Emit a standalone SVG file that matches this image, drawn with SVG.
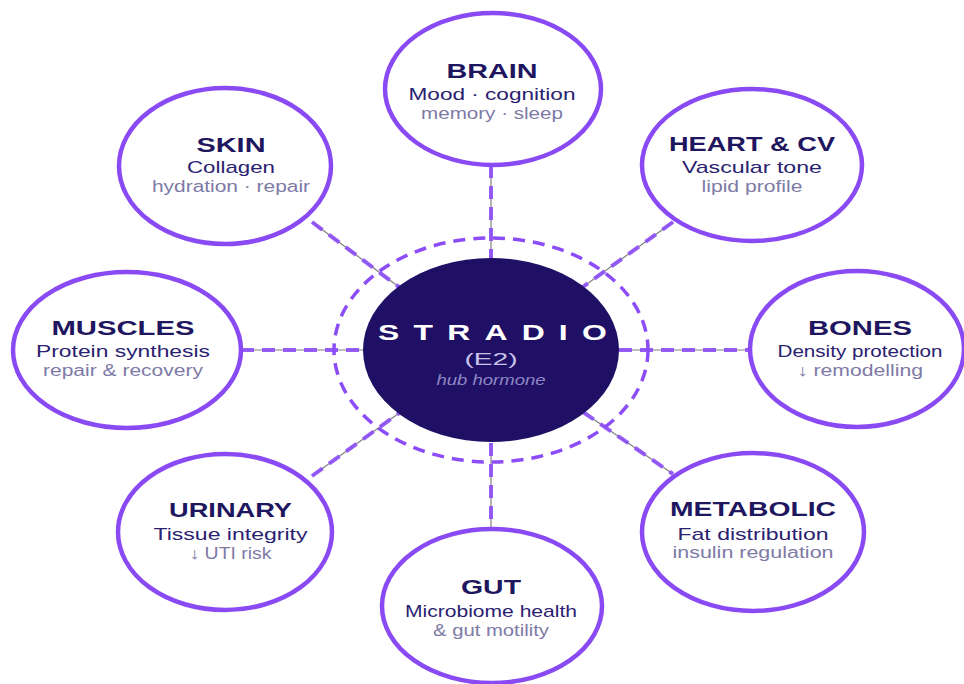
<svg xmlns="http://www.w3.org/2000/svg" width="964" height="684" viewBox="0 0 964 684">
<style>
.node{fill:#ffffff;stroke:#8a4af3;stroke-width:4.5}
.t1{font-family:"Liberation Sans",Arial,sans-serif;font-weight:bold;font-size:21px;fill:#1f1660;text-anchor:middle}
.t2{font-family:"Liberation Sans",Arial,sans-serif;font-size:17px;fill:#2a2270;text-anchor:middle}
.t3{font-family:"Liberation Sans",Arial,sans-serif;font-size:16px;fill:#7e7aa6;text-anchor:middle}
.base{stroke:#808080;stroke-width:1.2;fill:none}
.dash{stroke:#8c4cf7;stroke-width:4;stroke-dasharray:13 8;fill:none;opacity:0.9}
</style>
<rect width="964" height="684" fill="#ffffff"/>
<g id="connectors">
<line class="base" x1="491" y1="165" x2="491" y2="258"/>
<line class="dash" x1="491" y1="165" x2="491" y2="258"/>
<line class="base" x1="491" y1="443" x2="491" y2="529"/>
<line class="dash" x1="491" y1="443" x2="491" y2="529"/>
<line class="base" x1="241" y1="350" x2="363" y2="350"/>
<line class="dash" x1="241" y1="350" x2="363" y2="350"/>
<line class="base" x1="619" y1="350" x2="750" y2="350"/>
<line class="dash" x1="619" y1="350" x2="750" y2="350"/>
<line class="base" x1="312" y1="222" x2="403" y2="290"/>
<line class="dash" x1="312" y1="222" x2="403" y2="290"/>
<line class="base" x1="673" y1="222" x2="580" y2="289"/>
<line class="dash" x1="673" y1="222" x2="580" y2="289"/>
<line class="base" x1="312" y1="476" x2="402" y2="411"/>
<line class="dash" x1="312" y1="476" x2="402" y2="411"/>
<line class="base" x1="583" y1="412" x2="673" y2="474"/>
<line class="dash" x1="583" y1="412" x2="673" y2="474"/>
</g>
<g id="ring">
<ellipse cx="491" cy="350" rx="157" ry="112" fill="none" stroke="#8c4cf7" stroke-width="3.5" stroke-dasharray="12 8"/>
</g>
<g id="center">
<ellipse cx="491" cy="350" rx="128" ry="92" fill="#1f1066"/>
<g transform="translate(491 0) scale(1.45 1) translate(-491 0)">
<text x="388.6" y="340" font-family="Liberation Sans,Arial,sans-serif" font-weight="bold" font-size="22" fill="#ffffff" letter-spacing="9.8">ESTRADIOL</text>
</g>
<text x="491" y="365" font-family="Liberation Sans,Arial,sans-serif" font-size="17" fill="#c9c2ea" text-anchor="middle" textLength="53" lengthAdjust="spacingAndGlyphs">(E2)</text>
<text x="491" y="385" font-family="Liberation Sans,Arial,sans-serif" font-style="italic" font-size="15" fill="#9088c4" text-anchor="middle" textLength="109" lengthAdjust="spacingAndGlyphs">hub hormone</text>
</g>
<g id="brain">
<ellipse class="node" cx="493" cy="89" rx="108" ry="76"/>
<text class="t1" x="492" y="77.5" textLength="91" lengthAdjust="spacingAndGlyphs">BRAIN</text>
<text class="t2" x="492" y="100" textLength="167" lengthAdjust="spacingAndGlyphs">Mood · cognition</text>
<text class="t3" x="492" y="119" textLength="142" lengthAdjust="spacingAndGlyphs">memory · sleep</text>
</g>
<g id="skin">
<ellipse class="node" cx="225" cy="166" rx="106" ry="78"/>
<text class="t1" x="231" y="152" textLength="69" lengthAdjust="spacingAndGlyphs">SKIN</text>
<text class="t2" x="231" y="173" textLength="88" lengthAdjust="spacingAndGlyphs">Collagen</text>
<text class="t3" x="231" y="192" textLength="158" lengthAdjust="spacingAndGlyphs">hydration · repair</text>
</g>
<g id="heart">
<ellipse class="node" cx="752" cy="165" rx="110" ry="76"/>
<text class="t1" x="752" y="151" textLength="166" lengthAdjust="spacingAndGlyphs">HEART &amp; CV</text>
<text class="t2" x="752" y="173" textLength="140" lengthAdjust="spacingAndGlyphs">Vascular tone</text>
<text class="t3" x="752" y="192" textLength="101" lengthAdjust="spacingAndGlyphs">lipid profile</text>
</g>
<g id="muscles">
<ellipse class="node" cx="127" cy="350" rx="114" ry="78"/>
<text class="t1" x="123" y="335" textLength="143" lengthAdjust="spacingAndGlyphs">MUSCLES</text>
<text class="t2" x="123" y="357" textLength="174" lengthAdjust="spacingAndGlyphs">Protein synthesis</text>
<text class="t3" x="123" y="376" textLength="160" lengthAdjust="spacingAndGlyphs">repair &amp; recovery</text>
</g>
<g id="bones">
<ellipse class="node" cx="857" cy="349" rx="107" ry="78"/>
<text class="t1" x="860" y="335" textLength="104" lengthAdjust="spacingAndGlyphs">BONES</text>
<text class="t2" x="860" y="357" textLength="165" lengthAdjust="spacingAndGlyphs">Density protection</text>
<text class="t3" x="860" y="376" textLength="126" lengthAdjust="spacingAndGlyphs">↓ remodelling</text>
</g>
<g id="urinary">
<ellipse class="node" cx="225" cy="532" rx="107" ry="78"/>
<text class="t1" x="230.5" y="517" textLength="123" lengthAdjust="spacingAndGlyphs">URINARY</text>
<text class="t2" x="230.5" y="540" textLength="154" lengthAdjust="spacingAndGlyphs">Tissue integrity</text>
<text class="t3" x="230.5" y="559" textLength="82" lengthAdjust="spacingAndGlyphs">↓ UTI risk</text>
</g>
<g id="metabolic">
<ellipse class="node" cx="753" cy="532" rx="111" ry="79"/>
<text class="t1" x="753" y="516" textLength="166" lengthAdjust="spacingAndGlyphs">METABOLIC</text>
<text class="t2" x="753" y="540" textLength="151" lengthAdjust="spacingAndGlyphs">Fat distribution</text>
<text class="t3" x="753" y="558" textLength="161" lengthAdjust="spacingAndGlyphs">insulin regulation</text>
</g>
<g id="gut">
<ellipse class="node" cx="492" cy="606" rx="110" ry="77"/>
<text class="t1" x="491" y="594" textLength="60" lengthAdjust="spacingAndGlyphs">GUT</text>
<text class="t2" x="491" y="617" textLength="172" lengthAdjust="spacingAndGlyphs">Microbiome health</text>
<text class="t3" x="491" y="636" textLength="116" lengthAdjust="spacingAndGlyphs">&amp; gut motility</text>
</g>
</svg>
